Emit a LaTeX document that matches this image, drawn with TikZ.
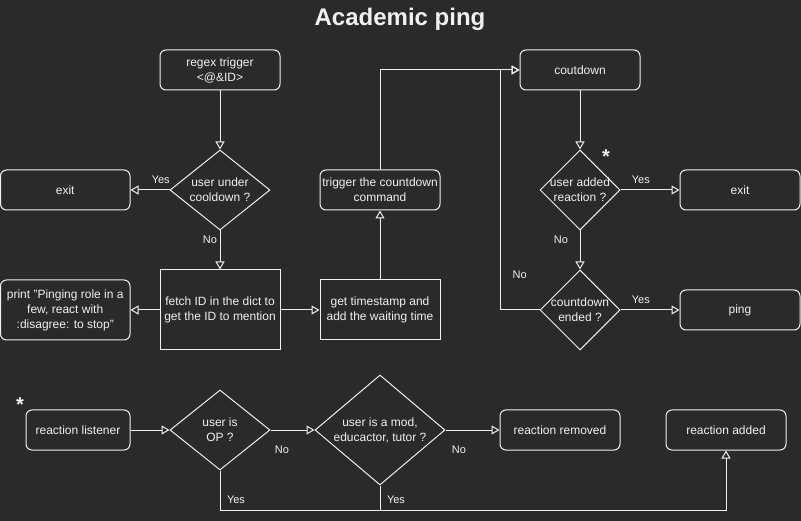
\documentclass[tikz,border=0pt]{standalone}
\usepackage{fontspec}
\setmainfont{Liberation Sans}
\usetikzlibrary{arrows.meta,shapes.geometric}
\definecolor{bgcol}{RGB}{42,42,42}
\definecolor{fgcol}{RGB}{240,240,240}

\begin{document}
\begin{tikzpicture}[x = 1pt, y = -1pt, line width = 1pt,
		box/.style = {draw = fgcol, rectangle, rounded corners = 6pt, inner sep = 0pt, align = center, text = fgcol, font = \fontsize{12}{15}\selectfont},
		sbox/.style = {box, sharp corners},
		dia/.style = {draw = fgcol, diamond, inner sep = 0pt},
		lbl/.style = {text = fgcol, font = \fontsize{11}{13}\selectfont, inner sep = 1pt},
		arr/.style = {draw = fgcol, -{Triangle[open, length = 8pt, width = 9pt]}},
		every label/.style = {align = center, text = fgcol, font = \fontsize{12}{15}\selectfont, inner sep = 0pt}]
		\path [use as bounding box, fill = bgcol] (0,0) rectangle (801,521);
		\node (title) at (400,19) [text = fgcol, font = \fontsize{24}{28}\selectfont\bfseries] {Academic ping};
		\node (regex) at (220,70) [box, minimum width = 120, minimum height = 40] {regex trigger\\<@\&ID>};
		\node (cool) at (220,190) [dia, minimum width = 100, minimum height = 80, label = {center:user under\\cooldown ?}] {};
		\node (exitl) at (65.25,190) [box, minimum width = 129.5, minimum height = 40] {exit};
		\node (fetch) at (220,310) [sbox, minimum width = 120, minimum height = 80] {fetch ID in the dict to\\get the ID to mention};
		\node (print) at (65.25,310) [box, minimum width = 129.5, minimum height = 60] {print "Pinging role in a\\few, react with\\:disagree: to stop"};
		\node (stamp) at (380,310) [sbox, minimum width = 120, minimum height = 60] {get timestamp and\\add the waiting time};
		\node (trig) at (380,190) [box, minimum width = 120, minimum height = 40] {trigger the countdown\\command};
		\node (cdown) at (580,70) [box, minimum width = 120, minimum height = 40] {coutdown};
		\node (react) at (580,190) [dia, minimum width = 80, minimum height = 80, label = {center:user added\\reaction ?}] {};
		\node (exitr) at (740,190) [box, minimum width = 120, minimum height = 40] {exit};
		\node (ended) at (580,310) [dia, minimum width = 80, minimum height = 80, label = {center:countdown\\ended ?}] {};
		\node (ping) at (740,310) [box, minimum width = 120, minimum height = 40] {ping};
		\node (star1) at (606,157) [lbl, font = \fontsize{20}{20}\selectfont\bfseries] {*};
		\node (star2) at (20,405) [lbl, font = \fontsize{20}{20}\selectfont\bfseries] {*};
		\node (listen) at (78,430) [box, minimum width = 104, minimum height = 40] {reaction listener};
		\node (op) at (220,430) [dia, minimum width = 100, minimum height = 80, label = {center:user is\\OP ?}] {};
		\node (mod) at (380,430) [dia, minimum width = 130, minimum height = 110, label = {center:user is a mod,\\educactor, tutor ?}] {};
		\node (removed) at (560,430) [box, minimum width = 120, minimum height = 40] {reaction removed};
		\node (added) at (726,430) [box, minimum width = 120, minimum height = 40] {reaction added};
		\coordinate (loopb) at (500,310);
		\coordinate (loopt) at (500,70);
		\coordinate (base) at (726,510);
		\draw [arr] (regex) -- (cool);
		\draw [arr] (cool.west) -- node [lbl, pos = 0.225, yshift = 10pt] {Yes} (exitl.east);
		\draw [arr] (cool.south) -- node [lbl, pos = 0.25, xshift = -10pt] {No} (fetch.north);
		\draw [arr] (fetch.west) -- (print.east);
		\draw [arr] (fetch.east) -- (stamp.west);
		\draw [arr] (stamp.north) -- (trig.south);
		\draw [arr] (trig.north) |- (cdown.west);
		\draw [arr] (cdown.south) -- (react.north);
		\draw [arr] (react.east) -- node [lbl, pos = 0.345, yshift = 10pt] {Yes} (exitr.west);
		\draw [arr] (react.south) -- node [lbl, pos = 0.25, xshift = -19pt] {No} (ended.north);
		\draw [arr] (ended.east) -- node [lbl, pos = 0.345, yshift = 10pt] {Yes} (ping.west);
		\draw [arr] (ended.west) -- node [lbl, pos = 0.5, yshift = 35pt] {No} (loopb) -- (loopt) -- (cdown.west);
		\draw [arr] (listen.east) -- (op.west);
		\draw [arr] (op.east) -- node [lbl, pos = 0.26, yshift = -20pt] {No} (mod.west);
		\draw [arr] (mod.east) -- node [lbl, pos = 0.25, yshift = -20pt] {No} (removed.west);
		\draw [arr] (op.south) -- node [lbl, pos = 0.75, xshift = 16pt] {Yes} (op.south |- base) -- (base) -- (added.south);
		\draw [fgcol] (mod.south) -- node [lbl, pos = 0.6, xshift = 16pt] {Yes} (mod.south |- base);
	\end{tikzpicture}
\end{document}
